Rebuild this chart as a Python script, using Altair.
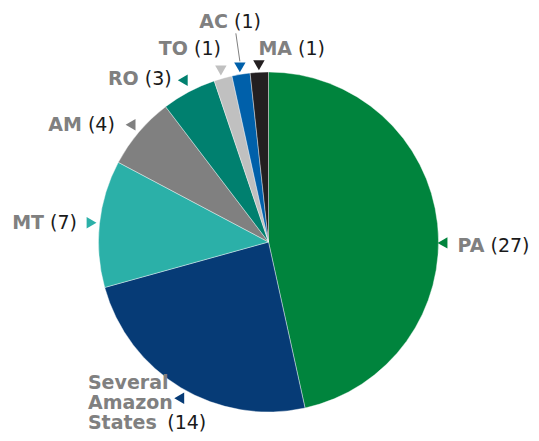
import math
import altair as alt
import pandas as pd

# ---- data ----
names = ["PA", "Several Amazon States", "MT", "AM", "RO", "TO", "AC", "MA"]
counts = [27, 14, 7, 4, 3, 1, 1, 1]
colors = ["#00843D", "#063B76", "#2BB0A8", "#808080", "#00806F", "#C0C0C0", "#0060AA", "#231F20"]

# ---- layout (pixels / degrees) ----
CX, CY, R = 260.5, 234.0, 170
angle_shift = [6.5, -1.3, 0, 0, 0, 0, 0, 0]
anchor_r = [174, 180, 178, 181, 183, 178, 177, 177]
pointer_dir = [270, 270, 90, 270, 270, 180, 180, 180]
name_dx = [42.0, -91.3, -47.5, -48.6, -44.0, -32.9, -11.9, 33.1]
name_dy = [9, -9.3, 6.2, 6.4, 4.7, -15.5, -39.3, -10.3]
count_gap = 6.0
several_count = (-12.0, 30.7)
several_line_height = 20
leader_ac = (-4.0, -34.0, 0.0, -6.0)

total = sum(counts)
rows = []
cum = 0
for i, (n, c) in enumerate(zip(names, counts)):
    mid = (cum + c / 2) / total * 360 + angle_shift[i]
    cum += c
    a = math.radians(mid)
    tx = CX + anchor_r[i] * math.sin(a)
    ty = CY - anchor_r[i] * math.cos(a)
    nx, ny = tx + name_dx[i], ty + name_dy[i]
    if n == "Several Amazon States":
        cx_, cy_ = tx + several_count[0], ty + several_count[1]
    else:
        cx_, cy_ = nx + count_gap, ny
    rows.append(dict(idx=i, name=n, count=c, ctext=f"({c})", tx=tx, ty=ty,
                     dir=pointer_dir[i], nx=nx, ny=ny, cx=cx_, cy=cy_,
                     lx1=tx + leader_ac[0], ly1=ty + leader_ac[1],
                     lx2=tx + leader_ac[2], ly2=ty + leader_ac[3]))
df = pd.DataFrame(rows)

color_scale = alt.Scale(domain=names, range=colors)
FONT = "DejaVu Sans"
FS = 19

pie = alt.Chart(df).mark_arc(radius=R, stroke="white", strokeWidth=0.4).encode(
    theta=alt.Theta("count:Q", stack=True),
    color=alt.Color("name:N", scale=color_scale, legend=None),
    order=alt.Order("idx:Q"),
    x=alt.value(CX),
    y=alt.value(CY),
)

tri = alt.Chart(df).mark_point(filled=True, shape="triangle-up", size=130, opacity=1).encode(
    x=alt.X("tx:Q", scale=None),
    y=alt.Y("ty:Q", scale=None),
    angle=alt.Angle("dir:Q", scale=None),
    color=alt.Color("name:N", scale=color_scale, legend=None),
)

leader = alt.Chart(df[df.name == "AC"]).mark_rule(color="#808080", strokeWidth=1).encode(
    x=alt.X("lx1:Q", scale=None), y=alt.Y("ly1:Q", scale=None),
    x2="lx2:Q", y2="ly2:Q",
)

name_txt = alt.Chart(df[df.name != "Several Amazon States"]).mark_text(
    align="right", baseline="alphabetic", font=FONT, fontSize=FS, fontWeight="bold", color="#808080"
).encode(x=alt.X("nx:Q", scale=None), y=alt.Y("ny:Q", scale=None), text="name:N")

sev_txt = alt.Chart(df[df.name == "Several Amazon States"]).mark_text(
    align="left", baseline="alphabetic", font=FONT, fontSize=FS, fontWeight="bold", color="#808080",
    lineBreak=" ", lineHeight=several_line_height
).encode(x=alt.X("nx:Q", scale=None), y=alt.Y("ny:Q", scale=None), text="name:N")

count_txt = alt.Chart(df).mark_text(
    align="left", baseline="alphabetic", font=FONT, fontSize=FS, color="#1a1a1a"
).encode(x=alt.X("cx:Q", scale=None), y=alt.Y("cy:Q", scale=None), text="ctext:N")

chart = alt.layer(pie, leader, tri, name_txt, sev_txt, count_txt).properties(
    width=523, height=425, padding=0, autosize="none", background="white"
).configure_view(stroke=None)

chart.save("out.html", embed_options={"renderer": "svg", "actions": False})
